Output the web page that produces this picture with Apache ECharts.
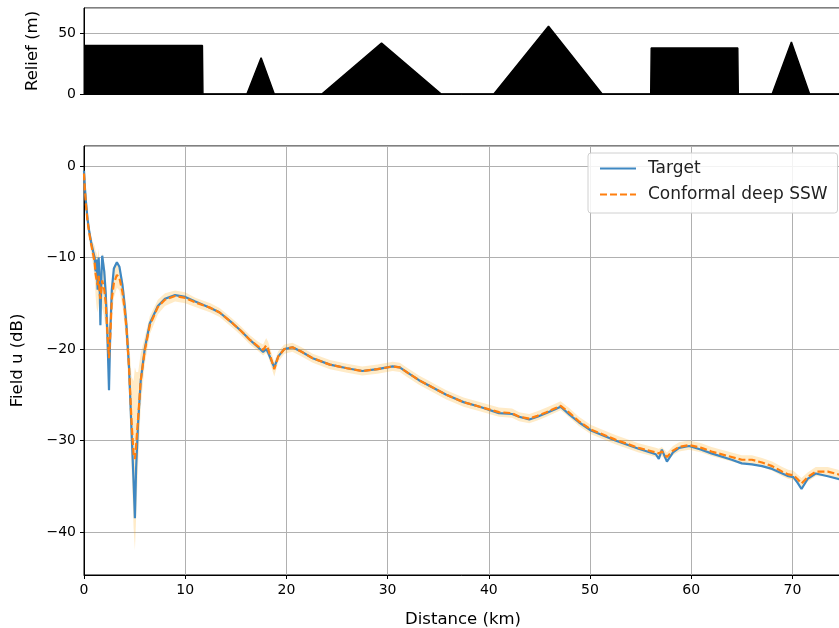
<!DOCTYPE html>
<html>
<head>
<meta charset="utf-8">
<script src="https://cdn.jsdelivr.net/npm/echarts@6/dist/echarts.min.js"></script>
<style>html,body{margin:0;padding:0;background:#fff}#c{width:839px;height:628px}</style>
</head>
<body>
<div id="c"></div>
<script>
// Relief profile (km, m)
const reliefKm = [0, 11.7, 11.75, 16.1, 17.5, 18.8, 23.5, 29.4, 35.3, 40.5, 45.9, 51.2, 56.0, 56.05, 64.6, 64.65, 68.0, 69.9, 71.7, 74.9];
const reliefM  = [40, 40, 0, 0, 30, 0, 0, 42, 0, 0, 56, 0, 0, 38, 38, 0, 0, 43, 0, 0];

// Field (dB) vs distance (km)
const distKm = [
  0, 0.1, 0.2, 0.35, 0.5, 0.7, 0.9, 1.05, 1.15, 1.25,
  1.35, 1.45, 1.55, 1.62, 1.72, 1.8, 1.9, 2.0, 2.15, 2.3,
  2.47, 2.6, 2.75, 2.95, 3.25, 3.5, 3.8, 4.0, 4.2, 4.45,
  4.7, 4.9, 5.03, 5.15, 5.35, 5.6, 6.0, 6.5, 7.3, 8.0,
  9.0, 10, 11, 12.5, 13.4, 14.7, 15.5, 16.4, 17.2, 17.7,
  18.0, 18.2, 18.8, 19.2, 19.8, 20.6, 21.5, 22.6, 24.3, 26,
  27.5, 29, 30.5, 31.2, 32, 33.1, 35.8, 37.5, 39.1, 41.0,
  42.3, 43, 44.0, 44.8, 45.7, 46.5, 47.1, 48, 48.9, 50.1,
  52.5, 54.8, 56.5, 56.8, 57.1, 57.6, 58.2, 58.8, 59.8, 61,
  62.0, 64.0, 65.0, 66.0, 67.0, 68.0, 69.0, 69.6, 70.1, 70.5,
  70.9, 71.5, 72.3, 73.5, 74.9
];
const target = [
  -0.5, -2.5, -4.0, -5.8, -7.0, -8.3, -9.3, -10.0, -11.5, -10.2,
  -13.5, -10.0, -13.0, -17.4, -12.0, -9.8, -10.0, -11.5, -14.0, -18.0,
  -24.5, -18.0, -13.5, -11.2, -10.5, -11.0, -13.0, -15.0, -17.5, -22.0,
  -29.0, -34.5, -38.5, -33.0, -28.0, -23.5, -20.0, -17.2, -15.3, -14.5,
  -14.1, -14.3, -14.8, -15.5, -16.0, -17.2, -18.0, -19.0, -19.8, -20.3,
  -20.0, -20.4, -22.0, -20.8, -20.0, -19.8, -20.3, -21.0, -21.7, -22.1,
  -22.4, -22.2, -21.9, -22.0, -22.6, -23.4, -25.0, -25.8, -26.3, -27.0,
  -27.1, -27.4, -27.7, -27.4, -27.0, -26.6, -26.3, -27.2, -28.0, -28.9,
  -30.0, -30.9, -31.5, -32.0, -31.0, -32.3, -31.3, -30.8, -30.6, -31.0,
  -31.4, -32.1, -32.5, -32.6, -32.8, -33.1, -33.6, -33.9, -34.0, -34.6,
  -35.3, -34.2, -33.6, -33.9, -34.3
];
const conformal = [
  -0.8, -2.8, -4.3, -6.0, -7.2, -8.5, -9.6, -10.5, -11.8, -12.5,
  -13.0, -12.0, -14.0, -14.5, -13.5, -12.5, -13.0, -13.5, -15.0, -18.0,
  -21.0, -18.5, -14.5, -12.8, -11.9, -12.2, -13.8, -15.5, -17.8, -22.0,
  -28.0, -31.5, -32.0, -30.5, -27.5, -23.5, -20.2, -17.4, -15.4, -14.6,
  -14.2, -14.4, -14.9, -15.5, -16.0, -17.2, -18.0, -19.0, -19.7, -20.1,
  -19.6, -20.0, -22.2, -20.8, -20.0, -19.8, -20.3, -21.0, -21.7, -22.1,
  -22.4, -22.2, -21.9, -22.0, -22.6, -23.4, -25.0, -25.8, -26.3, -26.9,
  -27.0, -27.4, -27.6, -27.3, -26.9, -26.5, -26.2, -27.0, -27.9, -28.8,
  -29.9, -30.8, -31.3, -31.4, -31.2, -31.8, -31.1, -30.7, -30.5, -30.8,
  -31.2, -31.8, -32.1, -32.1, -32.4, -32.8, -33.4, -33.7, -33.8, -34.2,
  -34.7, -34.0, -33.4, -33.4, -33.8
];
const bandHalf = [
  0.5, 0.6, 0.6, 0.7, 0.8, 0.9, 1.2, 1.8, 2.5, 3,
  3, 3, 3, 3, 3, 3, 3, 3, 3, 3,
  3, 2.5, 2, 1.6, 1.4, 1.4, 1.5, 1.8, 2.2, 3,
  5, 8, 10, 8, 5, 3, 1.5, 1, 0.8, 0.7,
  0.6, 0.6, 0.5, 0.5, 0.5, 0.5, 0.5, 0.5, 0.5, 0.6,
  0.8, 0.8, 0.8, 0.6, 0.5, 0.5, 0.5, 0.5, 0.5, 0.5,
  0.5, 0.5, 0.5, 0.5, 0.5, 0.5, 0.5, 0.5, 0.5, 0.5,
  0.5, 0.5, 0.5, 0.5, 0.5, 0.5, 0.5, 0.5, 0.5, 0.5,
  0.5, 0.5, 0.5, 0.5, 0.5, 0.5, 0.5, 0.5, 0.5, 0.5,
  0.5, 0.5, 0.5, 0.5, 0.5, 0.5, 0.5, 0.5, 0.5, 0.5,
  0.6, 0.5, 0.5, 0.5, 0.5
];

const FONT = 'DejaVu Sans';
const X_MAX = 74.9;
const minus = v => String(v).replace('-', '\u2212');
const zip = (a, b) => a.map((v, i) => [v, b[i]]);

const chart = echarts.init(document.getElementById('c'), null, {renderer: 'canvas'});
const axisText = {fontFamily: FONT, fontSize: 14, color: '#000'};
const nameText = {fontFamily: FONT, fontSize: 16.5, color: '#000'};

chart.setOption({
  animation: false,
  backgroundColor: '#fff',
  grid: [
    {left: 84, right: -3, top: 8, height: 86, show: true, borderColor: '#000', borderWidth: 1, backgroundColor: 'transparent', outerBoundsMode: 'none', containLabel: false},
    {left: 84, right: -3, top: 146, height: 429, show: true, borderColor: '#000', borderWidth: 1, backgroundColor: 'transparent', outerBoundsMode: 'none', containLabel: false}
  ],
  xAxis: [
    {gridIndex: 0, type: 'value', min: 0, max: X_MAX, interval: 10,
     axisLine: {show: true, onZero: false, lineStyle: {color: '#000', width: 1}},
     axisTick: {show: false}, axisLabel: {show: false}, splitLine: {show: false}},
    {gridIndex: 1, type: 'value', min: 0, max: X_MAX, interval: 10,
     name: 'Distance (km)', nameLocation: 'middle', nameGap: 36, nameTextStyle: nameText,
     axisLine: {show: true, onZero: false, lineStyle: {color: '#000', width: 1}},
     axisTick: {show: true, length: 4, lineStyle: {color: '#000'}},
     axisLabel: Object.assign({margin: 8, showMaxLabel: false}, axisText),
     splitLine: {show: true, lineStyle: {color: '#b0b0b0', width: 1}}}
  ],
  yAxis: [
    {gridIndex: 0, type: 'value', min: 0, max: 71, interval: 50,
     name: 'Relief (m)', nameLocation: 'middle', nameGap: 43, nameTextStyle: nameText,
     axisLine: {show: true, onZero: false, lineStyle: {color: '#000', width: 1}},
     axisTick: {show: true, length: 4, lineStyle: {color: '#000'}},
     axisLabel: Object.assign({margin: 8, showMaxLabel: false, formatter: minus}, axisText),
     splitLine: {show: true, lineStyle: {color: '#b0b0b0', width: 1}}},
    {gridIndex: 1, type: 'value', min: -44.7, max: 2.2, splitNumber: 5,
     name: 'Field u (dB)', nameLocation: 'middle', nameGap: 58, nameTextStyle: nameText,
     axisLine: {show: true, onZero: false, lineStyle: {color: '#000', width: 1}},
     axisTick: {show: true, length: 4, lineStyle: {color: '#000'}},
     axisLabel: Object.assign({margin: 8, showMinLabel: false, showMaxLabel: false, formatter: minus}, axisText),
     splitLine: {show: true, lineStyle: {color: '#b0b0b0', width: 1}}}
  ],
  legend: {
    data: ['Target', 'Conformal deep SSW'],
    orient: 'vertical', left: 588, top: 153,
    padding: [7, 10, 10, 11], itemGap: 9, itemWidth: 36, itemHeight: 14,
    itemStyle: {opacity: 0},
    backgroundColor: 'rgba(255,255,255,0.85)', borderColor: '#d0d0d0', borderWidth: 1, borderRadius: 3,
    textStyle: {fontFamily: FONT, fontSize: 17, color: '#222', padding: [0, 0, 0, 7]}
  },
  series: [
    {type: 'line', name: 'relief', xAxisIndex: 0, yAxisIndex: 0, data: zip(reliefKm, reliefM),
     symbol: 'none', lineStyle: {color: '#000', width: 1.5}, areaStyle: {color: '#000', opacity: 1}, z: 2},
    {type: 'custom', name: 'band', xAxisIndex: 1, yAxisIndex: 1, data: [[0, 0]], clip: true, silent: true, z: 1,
     renderItem: function (params, api) {
       const pts = [];
       for (let i = 0; i < distKm.length; i++) pts.push(api.coord([distKm[i], conformal[i] + bandHalf[i]]));
       for (let i = distKm.length - 1; i >= 0; i--) pts.push(api.coord([distKm[i], conformal[i] - bandHalf[i]]));
       return {type: 'polygon', shape: {points: pts}, style: {fill: 'rgba(255,165,0,0.22)', stroke: 'none'}};
     }},
    {type: 'line', name: 'Target', xAxisIndex: 1, yAxisIndex: 1, data: zip(distKm, target),
     symbol: 'none', color: '#3f88c2', lineStyle: {color: '#3f88c2', width: 2.2}, z: 3},
    {type: 'line', name: 'Conformal deep SSW', xAxisIndex: 1, yAxisIndex: 1, data: zip(distKm, conformal),
     symbol: 'none', color: '#ff7f0e', lineStyle: {color: '#ff7f0e', width: 2.2, type: [7, 3]}, z: 4}
  ]
});
</script>
</body>
</html>
